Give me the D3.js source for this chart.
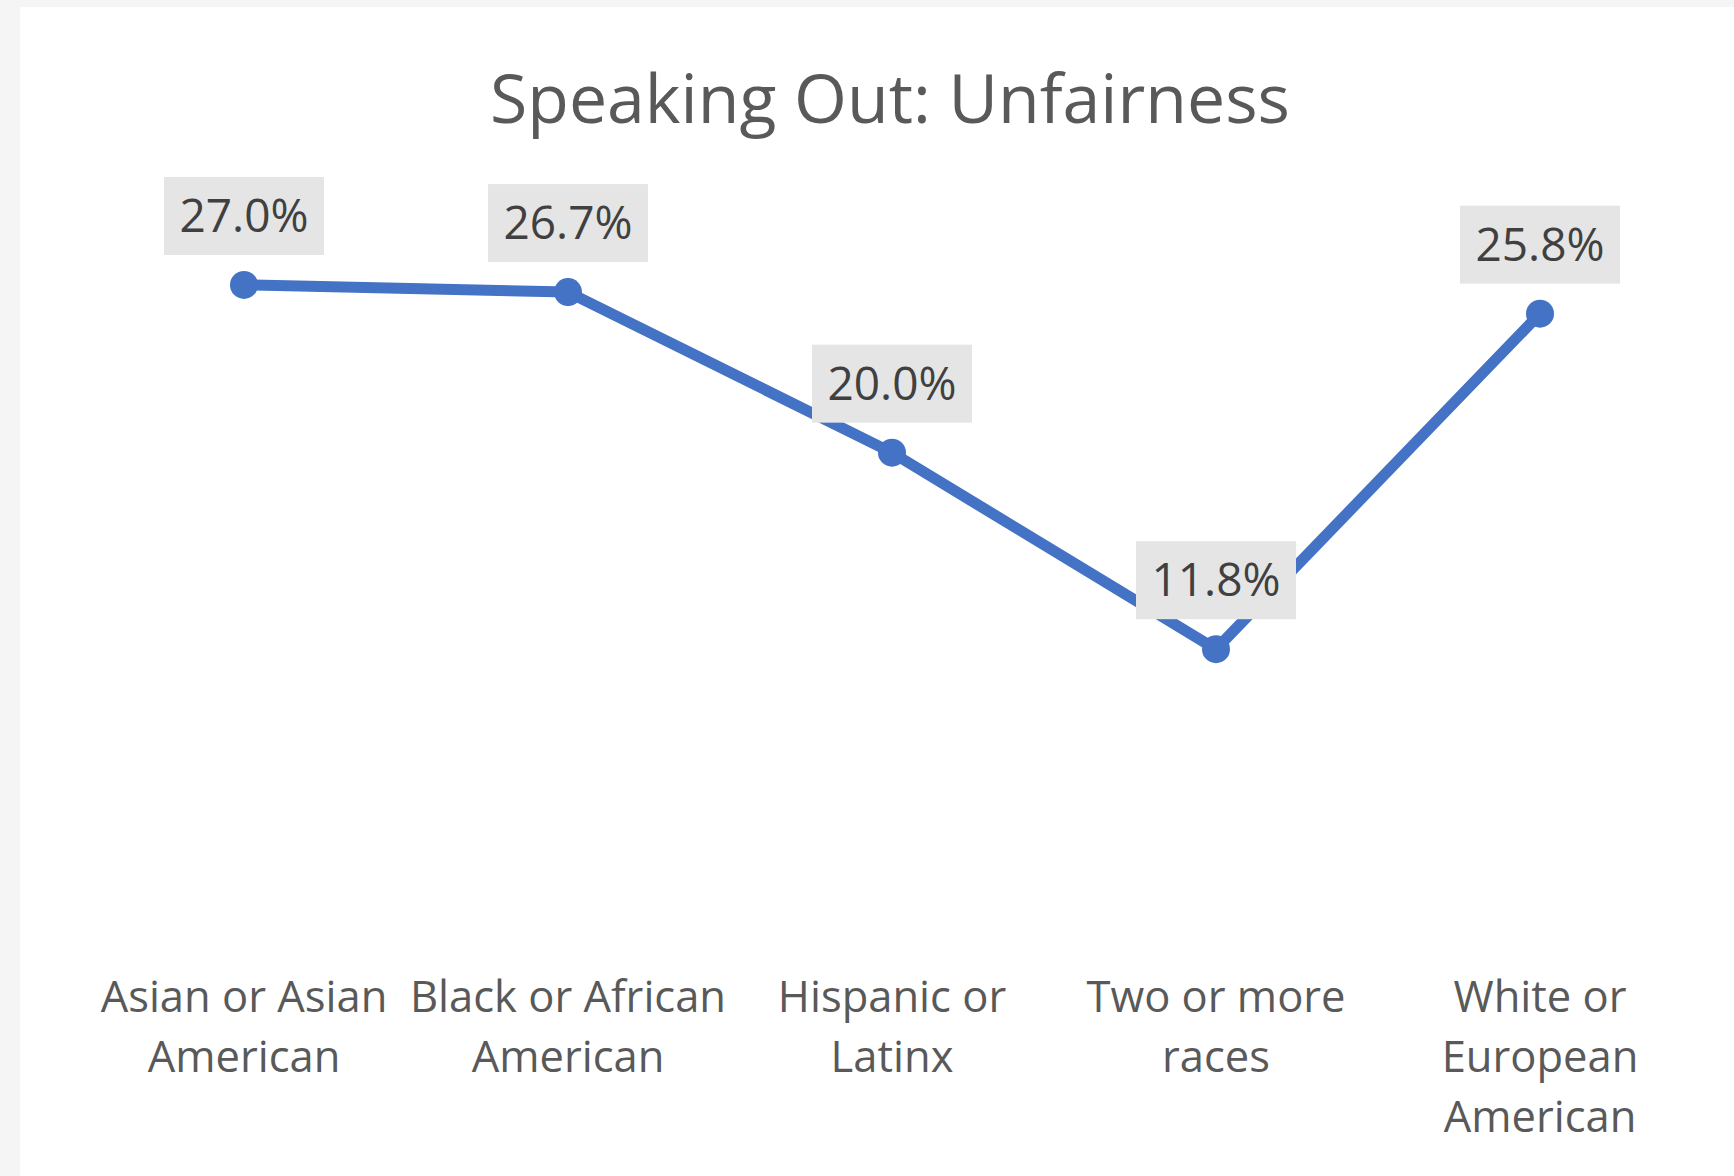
<!DOCTYPE html>
<html>
<head>
<meta charset="utf-8">
<script src="https://cdn.jsdelivr.net/npm/d3@7"></script>
<style>
  html, body { margin: 0; padding: 0; background: #f5f5f5; }
  svg { display: block; }
</style>
</head>
<body>
<svg id="chart" width="1734" height="1176"></svg>
<script>
const title = "Speaking Out: Unfairness";
const categories = [
  "Asian or Asian American",
  "Black or African American",
  "Hispanic or Latinx",
  "Two or more races",
  "White or European American"
];
const values = [27.0, 26.7, 20.0, 11.8, 25.8];
const labels = ["27.0%", "26.7%", "20.0%", "11.8%", "25.8%"];
const yDomain = [0, 30];

const W = 1734, H = 1176;
const svg = d3.select("#chart");
const font = "'Open Sans', 'Noto Sans', sans-serif";

svg.append("rect").attr("width", W).attr("height", H).attr("fill", "#f5f5f5");
svg.append("rect").attr("x", 20).attr("y", 7).attr("width", W - 20).attr("height", H - 7).attr("fill", "#ffffff");

const plot = { left: 82, right: 1702, top: 213, bottom: 932 };

const x = d3.scaleBand().domain(categories).range([plot.left, plot.right]);
const y = d3.scaleLinear().domain(yDomain).range([plot.bottom, plot.top]);
const cx = c => x(c) + x.bandwidth() / 2;

svg.append("text")
  .attr("x", (plot.left + plot.right) / 2 - 2)
  .attr("y", 123)
  .attr("text-anchor", "middle")
  .attr("font-family", font)
  .attr("font-size", 68)
  .attr("fill", "#595959")
  .text(title);

// x axis (labels only)
const axis = d3.axisBottom(x).tickSize(0).tickPadding(0);
const gx = svg.append("g").attr("transform", `translate(0,${plot.bottom})`).call(axis);
gx.select(".domain").remove();
gx.selectAll("text")
  .attr("font-family", font)
  .attr("font-size", 43.5)
  .attr("fill", "#595959")
  .attr("y", 0).attr("dy", null)
  .each(function(d) {
    const t = d3.select(this);
    const words = d.split(" ");
    t.text(null);
    const lines = [];
    let cur = [];
    const tmp = t.append("tspan");
    words.forEach(w => {
      const test = cur.concat([w]).join(" ");
      tmp.text(test);
      if (tmp.node().getComputedTextLength() > x.bandwidth() + 2 && cur.length) {
        lines.push(cur.join(" "));
        cur = [w];
      } else {
        cur.push(w);
      }
    });
    lines.push(cur.join(" "));
    tmp.remove();
    lines.forEach((ln, i) => {
      t.append("tspan").attr("x", 0).attr("y", 80 + i * 60).text(ln);
    });
  });

// line
const line = d3.line().x((d, i) => cx(categories[i])).y(d => y(d));
svg.append("path")
  .datum(values)
  .attr("d", line)
  .attr("fill", "none")
  .attr("stroke", "#4472c4")
  .attr("stroke-width", 11)
  .attr("stroke-linejoin", "round");

svg.selectAll("circle.pt")
  .data(values)
  .enter().append("circle")
  .attr("class", "pt")
  .attr("cx", (d, i) => cx(categories[i]))
  .attr("cy", d => y(d))
  .attr("r", 14)
  .attr("fill", "#4472c4");

// data labels
const lg = svg.selectAll("g.lbl")
  .data(values)
  .enter().append("g")
  .attr("class", "lbl")
  .attr("transform", (d, i) => `translate(${cx(categories[i])},${y(d) - 69})`);
lg.append("rect")
  .attr("x", -80).attr("y", -39).attr("width", 160).attr("height", 78)
  .attr("fill", "#e5e5e5");
lg.append("text")
  .attr("text-anchor", "middle")
  .attr("y", 16)
  .attr("font-family", font)
  .attr("font-size", 46)
  .attr("fill", "#404040")
  .text((d, i) => labels[i]);
</script>
</body>
</html>
